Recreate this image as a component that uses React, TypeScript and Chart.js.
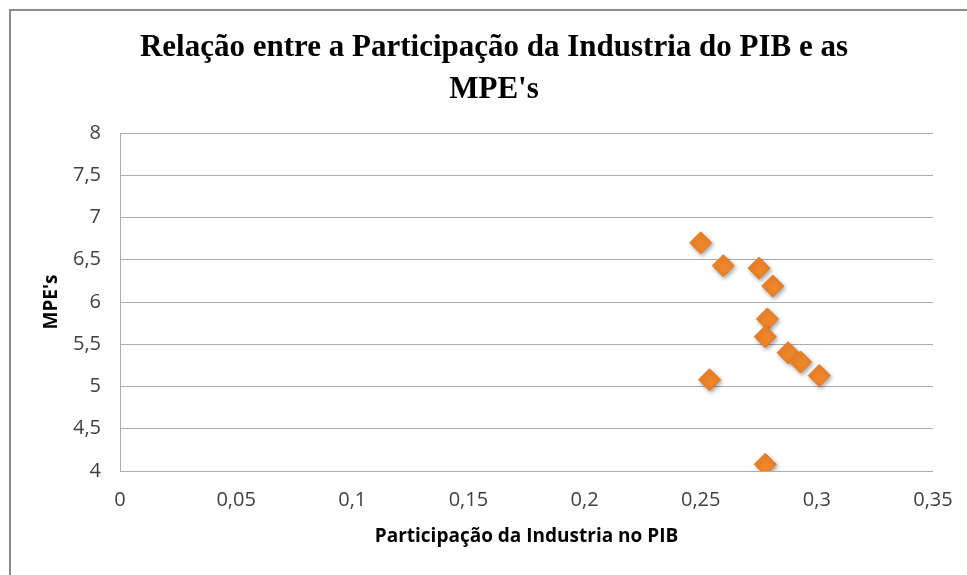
import React, { useEffect, useRef } from "react";
import { Chart, registerables } from "chart.js";

Chart.register(...registerables);

const titleLines = ["Relação entre a Participação da Industria do PIB e as", "MPE's"];
const xAxisTitle = "Participação da Industria no PIB";
const yAxisTitle = "MPE's";

// Participação da Industria no PIB (x) and MPE's (y)
const industriaPIB = [0.25, 0.2597, 0.2751, 0.281, 0.2787, 0.2778, 0.2876, 0.293, 0.301, 0.2538, 0.2778];
const mpes = [6.7, 6.43, 6.4, 6.19, 5.8, 5.59, 5.4, 5.29, 5.13, 5.08, 4.08];

const fmt = (v: number) => String(Math.round(v * 100) / 100).replace(".", ",");

const shadowPlugin = {
  id: "pointShadow",
  beforeDatasetDraw(chart: any) {
    const ctx = chart.ctx;
    ctx.save();
    ctx.shadowColor = "rgba(0,0,0,0.35)";
    ctx.shadowBlur = 4;
    ctx.shadowOffsetX = 1.5;
    ctx.shadowOffsetY = 2;
  },
  afterDatasetDraw(chart: any) {
    chart.ctx.restore();
  },
};

const titlePlugin = {
  id: "centeredTitle",
  afterDraw(chart: any) {
    const ctx = chart.ctx;
    ctx.save();
    ctx.fillStyle = "#000000";
    ctx.font = "bold 31px 'Liberation Serif', 'Times New Roman', serif";
    ctx.textAlign = "center";
    ctx.textBaseline = "middle";
    const cx = 482;
    titleLines.forEach((line, i) => {
      ctx.fillText(line, cx, 36 + i * 42);
    });
    ctx.restore();
  },
};

export default function App() {
  const ref = useRef<HTMLCanvasElement | null>(null);

  useEffect(() => {
    if (!ref.current) return;
    const data = industriaPIB.map((x, i) => ({ x, y: mpes[i] }));
    const chart = new Chart(ref.current, {
      type: "scatter",
      data: {
        datasets: [
          {
            data,
            pointStyle: "rectRot",
            pointRadius: 11,
            pointHoverRadius: 11,
            backgroundColor: "#F0862A",
            borderColor: "#E07820",
            borderWidth: 1,
          },
        ],
      },
      options: {
        animation: false,
        responsive: false,
        maintainAspectRatio: false,
        events: [],
        layout: { padding: { left: 0, right: 43, top: 121, bottom: 0 } },
        plugins: {
          legend: { display: false },
          tooltip: { enabled: false },
          title: { display: false },
        },
        scales: {
          x: {
            type: "linear",
            min: 0,
            max: 0.35,
            afterFit: (s: any) => {
              s.height = 104;
            },
            ticks: {
              stepSize: 0.05,
              padding: 17,
              color: "#404040",
              font: { family: "'Open Sans', sans-serif", size: 20 },
              callback: (v: any) => fmt(Number(v)),
              maxRotation: 0,
            },
            grid: { display: false, drawTicks: false },
            border: { display: false },
            title: {
              display: true,
              text: xAxisTitle,
              color: "#000000",
              font: { family: "'Open Sans', sans-serif", size: 19, weight: "bold" },
              padding: { top: 0, bottom: 27 },
            },
          },
          y: {
            type: "linear",
            min: 4,
            max: 8,
            afterFit: (s: any) => {
              s.width = 108;
            },
            ticks: {
              stepSize: 0.5,
              padding: 19,
              color: "#404040",
              font: { family: "'Open Sans', sans-serif", size: 20 },
              callback: (v: any) => fmt(Number(v)),
            },
            grid: { color: "#ADADAD", lineWidth: 1, drawTicks: false },
            border: { display: true, color: "#ADADAD", width: 1 },
            title: {
              display: true,
              text: yAxisTitle,
              color: "#000000",
              font: { family: "'Open Sans', sans-serif", size: 19, weight: "bold" },
              padding: { top: 28, bottom: 0 },
            },
          },
        },
      },
      plugins: [shadowPlugin, titlePlugin],
    });
    return () => chart.destroy();
  }, []);

  return (
    <div
      style={{
        position: "fixed",
        left: 0,
        top: 0,
        width: 967,
        height: 575,
        overflow: "hidden",
        background: "#ffffff",
      }}
    >
      <div
        style={{
          position: "absolute",
          left: 9,
          top: 9,
          width: 970,
          height: 580,
          border: "2px solid #8C8C8C",
          background: "#ffffff",
        }}
      >
        <canvas ref={ref} width={964} height={563} style={{ display: "block", width: 964, height: 563, marginLeft: 1, marginTop: 1 }} />
      </div>
    </div>
  );
}
